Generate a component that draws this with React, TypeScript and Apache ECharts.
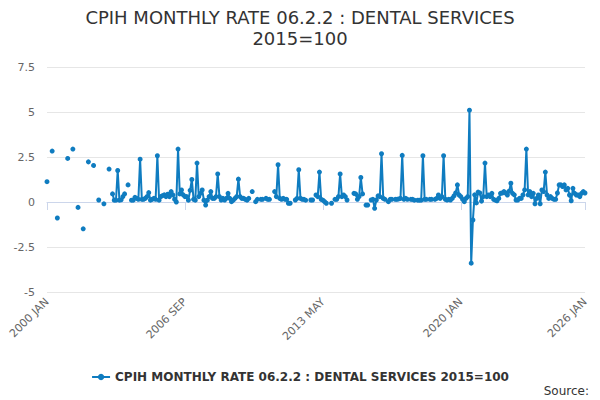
import React, { useEffect, useRef } from "react";
import * as echarts from "echarts";

const MONTHS = ["JAN", "FEB", "MAR", "APR", "MAY", "JUN", "JUL", "AUG", "SEP", "OCT", "NOV", "DEC"];
const FIRST_YEAR = 2000;

const y2000 = [1.13, null, null, 2.83, null, null, -0.89, null, null, null, null, null];
const y2001 = [2.42, null, null, 2.94, null, null, -0.3, null, null, -1.49, null, null];
const y2002 = [2.23, null, null, 2.03, null, null, 0.11, null, null, -0.1, null, null];
const y2003 = [1.83, null, 0.45, 0.1, 0.1, 1.75, 0.1, 0.12, 0.3, 0.45, null, 0.95];
const y2004 = [null, 0.1, 0.1, 0.26, 0.2, 0.15, 2.38, 0.15, 0.15, 0.2, 0.3, 0.52];
const y2005 = [0.1, 0.15, 0.2, 0.15, 2.57, 0.1, 0.3, 0.35, 0.4, 0.3, 0.43, 0.3];
const y2006 = [0.58, 0.4, 0.15, 0.0, 2.94, 0.45, 0.67, 0.4, 0.3, 0.3, 0.1, 0.65];
const y2007 = [1.25, 0.15, 0.1, 2.16, 0.3, 0.48, 0.67, 0.1, -0.17, 0.1, 0.3, 0.58];
const y2008 = [0.2, 0.2, 0.3, 1.56, 0.3, 0.11, 0.2, 0.11, 0.2, 0.48, 0.2, 0.02];
const y2009 = [0.1, 0.2, 0.3, 1.27, 0.3, 0.2, 0.2, 0.15, 0.1, 0.2, null, 0.58];
const y2010 = [null, 0.02, 0.15, null, 0.15, 0.15, null, 0.2, 0.15, 0.15, null, null];
const y2011 = [0.58, 0.3, 2.07, 0.2, 0.15, 0.2, 0.15, 0.15, -0.07, -0.07, null, null];
const y2012 = [0.11, 0.2, 1.79, 0.2, 0.15, 0.15, 0.1, null, null, 0.11, 0.11, null];
const y2013 = [0.39, 0.3, 1.66, 0.15, 0.1, 0.02, -0.07, null, null, -0.07, null, 0.15];
const y2014 = [0.15, 0.3, 1.56, 0.3, 0.39, 0.3, 0.11, null, null, null, 0.48, 0.45];
const y2015 = [0.15, 0.3, 1.36, 0.45, null, -0.17, -0.17, null, 0.11, 0.15, -0.35, 0.11];
const y2016 = [0.34, 0.3, 2.68, 0.2, 0.15, null, 0.02, 0.15, 0.15, null, 0.15, 0.15];
const y2017 = [0.17, 0.2, 2.59, 0.15, 0.2, 0.15, null, 0.15, 0.15, 0.1, null, 0.1];
const y2018 = [0.1, 0.1, 2.57, 0.15, 0.15, null, 0.15, 0.15, null, 0.15, 0.2, 0.39];
const y2019 = [0.2, 0.3, 2.57, 0.15, 0.11, 0.15, 0.11, 0.2, 0.34, 0.5, 0.95, 0.39];
const y2020 = [0.3, 0.15, 0.02, 0.2, 0.3, 5.1, -3.4, -1.0, 0.4, -0.05, 0.55, 0.5];
const y2021 = [0.05, 0.3, 2.16, 0.3, 0.39, 0.3, 0.48, 0.15, 0.1, 0.07, 0.2, 0.48];
const y2022 = [0.5, 0.58, 0.5, 0.39, 0.6, 1.04, 0.48, 0.4, 0.11, 0.11, 0.2, 0.2];
const y2023 = [0.39, 0.67, 2.94, 0.4, 0.58, 0.3, 0.48, -0.1, 0.2, 0.39, -0.1, 0.67];
const y2024 = [0.58, 1.66, 0.39, 0.2, 0.3, 0.2, 0.15, 0.15, 0.5, 0.95, 0.95, 0.86];
const y2025 = [0.95, 0.67, 0.76, 0.39, 0.07, 0.76, 0.48, 0.39, 0.39, 0.3, 0.48, 0.58];
const y2026 = [0.5];

const YEARLY = [
  y2000, y2001, y2002, y2003, y2004, y2005, y2006, y2007, y2008, y2009,
  y2010, y2011, y2012, y2013, y2014, y2015, y2016, y2017, y2018, y2019,
  y2020, y2021, y2022, y2023, y2024, y2025, y2026,
];

const Y_MIN = -5;
const Y_MAX = 7.5;
const Y_STEP = 2.5;
const LABEL_EVERY = 80;

const SERIES_NAME = "CPIH MONTHLY RATE 06.2.2 : DENTAL SERVICES 2015=100";
const TITLE_LINE_1 = "CPIH MONTHLY RATE 06.2.2 : DENTAL SERVICES";
const TITLE_LINE_2 = "2015=100";
const FONT = "DejaVu Sans, Verdana, sans-serif";
const BLUE = "#0f7cc0";

export default function App() {
  const ref = useRef<HTMLDivElement>(null);

  useEffect(() => {
    if (!ref.current) return;
    const chart = echarts.init(ref.current, undefined, { renderer: "svg" });

    const categories: string[] = [];
    const values: (number | null)[] = [];
    YEARLY.forEach((arr, yi) => {
      arr.forEach((v, mi) => {
        categories.push(`${FIRST_YEAR + yi} ${MONTHS[mi]}`);
        values.push(v as number | null);
      });
    });
    const last = categories.length - 1;
    const showIdx = (i: number) => i % LABEL_EVERY === 0 || i === last;

    const titleStyle = { fontFamily: FONT, fontSize: 18, fontWeight: "normal", color: "#333333" };

    chart.setOption({
      animation: false,
      textStyle: { fontFamily: FONT },
      title: [
        { text: TITLE_LINE_1, left: "center", top: 8, padding: 0, textStyle: titleStyle },
        { text: TITLE_LINE_2, left: "center", top: 29, padding: 0, textStyle: titleStyle },
        {
          text: "Source:",
          right: 11,
          top: 385,
          padding: 0,
          textStyle: { fontFamily: FONT, fontSize: 12, fontWeight: "normal", color: "#333333" },
        },
      ],
      legend: {
        top: 366,
        left: "center",
        itemWidth: 18,
        itemHeight: 8,
        itemGap: 10,
        textStyle: { fontFamily: FONT, fontSize: 12, fontWeight: "bold", color: "#333333" },
        data: [SERIES_NAME],
      },
      grid: { left: 47, right: 15, top: 67, bottom: 108, containLabel: false },
      xAxis: {
        type: "category",
        data: categories,
        boundaryGap: false,
        axisLine: { lineStyle: { color: "#ccd6eb" } },
        axisTick: { interval: (i: number) => showIdx(i), length: 8, lineStyle: { color: "#ccd6eb" } },
        axisLabel: {
          interval: (i: number) => showIdx(i),
          rotate: 45,
          fontFamily: FONT,
          fontSize: 11,
          color: "#666666",
          margin: 8,
        },
        splitLine: { show: false },
      },
      yAxis: {
        type: "value",
        min: Y_MIN,
        max: Y_MAX,
        interval: Y_STEP,
        axisLine: { show: false },
        axisTick: { show: false },
        axisLabel: { fontFamily: FONT, fontSize: 11, color: "#666666", margin: 12 },
        splitLine: { lineStyle: { color: "#e6e6e6" } },
      },
      series: [
        {
          name: SERIES_NAME,
          type: "line",
          data: values,
          connectNulls: false,
          showSymbol: true,
          showAllSymbol: true,
          symbol: "circle",
          symbolSize: 5,
          lineStyle: { width: 2, color: BLUE },
          itemStyle: { color: BLUE },
        },
      ],
    });

    return () => chart.dispose();
  }, []);

  return <div ref={ref} style={{ width: 600, height: 400, position: "absolute", left: 0, top: 0 }} />;
}
